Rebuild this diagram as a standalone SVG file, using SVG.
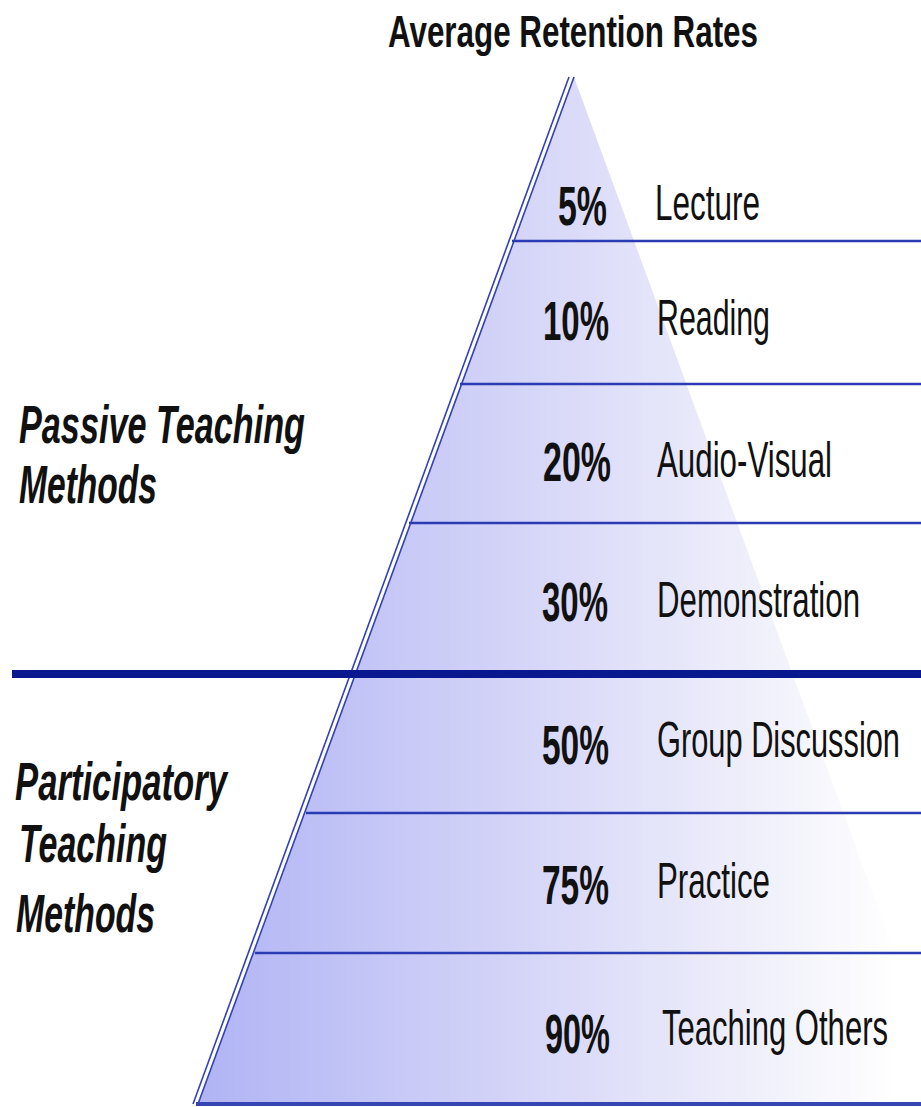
<svg xmlns="http://www.w3.org/2000/svg" width="921" height="1107" viewBox="0 0 921 1107">
<defs>
<linearGradient id="pyr" gradientUnits="userSpaceOnUse" x1="198" y1="0" x2="900" y2="0">
<stop offset="0" stop-color="#b0b4f4"/>
<stop offset="0.45" stop-color="#d4d4f8"/>
<stop offset="0.8" stop-color="#f0f0fb"/>
<stop offset="1" stop-color="#ffffff"/>
</linearGradient>
<style>
.title{font-family:"Liberation Sans",Arial,sans-serif;font-weight:bold;font-size:45px;fill:#111}
.pct{font-family:"Liberation Sans",Arial,sans-serif;font-weight:bold;font-size:56px;fill:#111}
.lbl{font-family:"Liberation Sans",Arial,sans-serif;font-size:50px;fill:#111}
.side{font-family:"Liberation Sans",Arial,sans-serif;font-weight:bold;font-style:italic;font-size:53px;fill:#111}
.thin{stroke:#2b3bb4;stroke-width:2.5;fill:none}
.edge{stroke:#3242b4;stroke-width:1.6;fill:none}
</style>
</defs>
<rect width="921" height="1107" fill="#ffffff"/>
<g id="pyramid">
<polygon points="574,77 198,1104 950,1104" fill="url(#pyr)"/>
<line class="edge" x1="569" y1="77" x2="193" y2="1104"/>
<line class="edge" x1="574" y1="77" x2="198" y2="1104"/>
</g>
<g id="connectors">
<line class="thin" x1="512" y1="241" x2="921" y2="241"/>
<line class="thin" x1="460" y1="384" x2="921" y2="384"/>
<line class="thin" x1="409" y1="523" x2="921" y2="523"/>
<line x1="12" y1="674" x2="921" y2="674" stroke="#0a1890" stroke-width="8"/>
<line class="thin" x1="306" y1="813" x2="921" y2="813"/>
<line class="thin" x1="255" y1="953" x2="921" y2="953"/>
<line x1="196" y1="1104" x2="921" y2="1104" stroke="#3546b4" stroke-width="4"/>
</g>
<g id="title"><text class="title" x="388" y="47" textLength="370" lengthAdjust="spacingAndGlyphs">Average Retention Rates</text></g>
<g id="passive">
<text class="side" x="19" y="443" textLength="286" lengthAdjust="spacingAndGlyphs">Passive Teaching</text>
<text class="side" x="19" y="503" textLength="138" lengthAdjust="spacingAndGlyphs">Methods</text>
</g>
<g id="participatory">
<text class="side" x="15" y="800" textLength="212" lengthAdjust="spacingAndGlyphs">Participatory</text>
<text class="side" x="19" y="862" textLength="148" lengthAdjust="spacingAndGlyphs">Teaching</text>
<text class="side" x="16" y="932" textLength="139" lengthAdjust="spacingAndGlyphs">Methods</text>
</g>
<g id="row-lecture">
<text class="pct" x="558" y="225" textLength="49" lengthAdjust="spacingAndGlyphs">5%</text>
<text class="lbl" x="655" y="220" textLength="105" lengthAdjust="spacingAndGlyphs">Lecture</text>
</g>
<g id="row-reading">
<text class="pct" x="543" y="340" textLength="66" lengthAdjust="spacingAndGlyphs">10%</text>
<text class="lbl" x="657" y="335" textLength="113" lengthAdjust="spacingAndGlyphs">Reading</text>
</g>
<g id="row-audiovisual">
<text class="pct" x="543" y="481" textLength="68" lengthAdjust="spacingAndGlyphs">20%</text>
<text class="lbl" x="657" y="477" textLength="175" lengthAdjust="spacingAndGlyphs">Audio-Visual</text>
</g>
<g id="row-demonstration">
<text class="pct" x="542" y="621" textLength="66" lengthAdjust="spacingAndGlyphs">30%</text>
<text class="lbl" x="657" y="617" textLength="203" lengthAdjust="spacingAndGlyphs">Demonstration</text>
</g>
<g id="row-group">
<text class="pct" x="542" y="764" textLength="67" lengthAdjust="spacingAndGlyphs">50%</text>
<text class="lbl" x="657" y="757" textLength="243" lengthAdjust="spacingAndGlyphs">Group Discussion</text>
</g>
<g id="row-practice">
<text class="pct" x="542" y="904" textLength="67" lengthAdjust="spacingAndGlyphs">75%</text>
<text class="lbl" x="657" y="898" textLength="113" lengthAdjust="spacingAndGlyphs">Practice</text>
</g>
<g id="row-teaching">
<text class="pct" x="545" y="1053" textLength="65" lengthAdjust="spacingAndGlyphs">90%</text>
<text class="lbl" x="662" y="1045" textLength="226" lengthAdjust="spacingAndGlyphs">Teaching Others</text>
</g>
</svg>
